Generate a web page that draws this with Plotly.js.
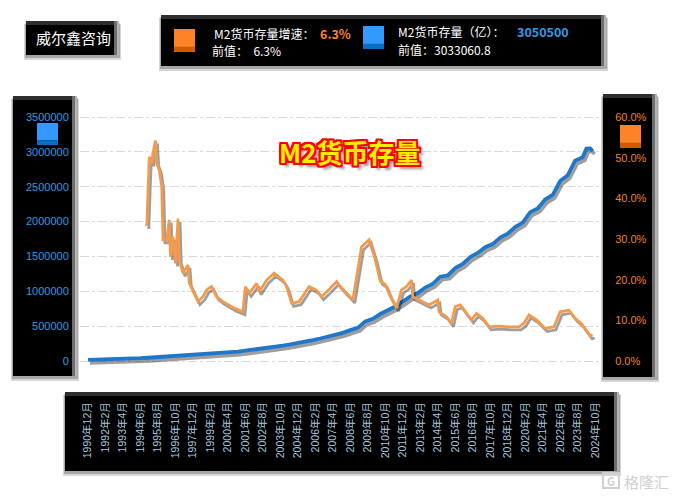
<!DOCTYPE html>
<html>
<head>
<meta charset="utf-8">
<script src="https://cdn.plot.ly/plotly-3.0.1.min.js"></script>
<style>
  html, body { margin: 0; padding: 0; background: #ffffff; }
  #chart { width: 676px; height: 496px; }
</style>
</head>
<body>
<div id="chart"></div>
<script>
// ---- data ----
const stockDates = ['1990-12','1991-06','1991-12','1992-06','1992-12','1993-06','1993-12','1994-06','1994-12',
  '1995-06','1995-12','1996-06','1996-12','1997-06','1997-12','1998-06','1998-12','1999-06','1999-12',
  '2000-06','2000-12','2001-06','2001-12','2002-06','2002-12','2003-06','2003-12','2004-06','2004-12',
  '2005-06','2005-12','2006-06','2006-12','2007-06','2007-12','2008-06','2008-12','2009-06','2009-12',
  '2010-06','2010-12','2011-06','2011-12','2012-06','2012-12','2013-06','2013-12','2014-06','2014-12',
  '2015-06','2015-12','2016-06','2016-12','2017-06','2017-12','2018-06','2018-12','2019-06','2019-12',
  '2020-06','2020-12','2021-06','2021-12','2022-06','2022-12','2023-06','2023-12','2024-03','2024-06',
  '2024-07','2024-08'];
const stockValues = [15293,17000,19350,22000,25402,30000,34880,40000,46924,
  53000,60750,68000,76095,82000,90995,97000,104499,111000,119898,
  126000,134610,147800,158302,170000,185007,204900,221223,238400,254107,
  275800,298756,322800,345578,377800,403442,443100,475166,568900,606225,
  673900,725852,780800,851591,924900,974159,1054000,1106500,1209600,1228400,
  1333400,1392300,1490500,1550100,1631300,1676800,1770200,1826700,1921400,1986500,
  2134900,2186800,2316200,2382900,2581500,2664300,2873000,2922700,3047900,3050200,
  3033061,3050500];

const growthDates = ['1994-11','1995-01','1995-03','1995-04','1995-06','1995-07','1995-09','1995-11','1995-12',
  '1996-03','1996-05','1996-06','1996-08','1996-10','1996-12','1997-01','1997-04','1997-08','1997-09',
  '1998-01','1998-04','1998-08','1998-11','1999-03','1999-07','1999-12','2000-05','2000-09','2001-04',
  '2001-06','2001-09','2002-03','2002-05','2002-11','2003-05','2003-12','2004-03','2004-07','2005-01',
  '2005-09','2006-03','2006-07','2006-11','2007-03','2007-07','2007-10','2008-03','2008-08','2009-03',
  '2009-09','2010-02','2010-06','2010-10','2011-02','2011-07','2011-11','2012-03','2012-07','2012-08',
  '2013-01','2013-09','2014-04','2014-05','2014-11','2015-03','2015-06','2015-10','2016-03','2016-07',
  '2016-11','2017-04','2017-09','2018-05','2019-01','2019-09','2020-01','2020-05','2020-11','2021-06',
  '2022-01','2022-06','2023-01','2023-06','2023-11','2024-06','2024-07','2024-08'];
const growthValues = [33.2,50.2,48.6,51.1,54.2,48.6,47.0,42.9,29.8,
  29.8,34.7,25.6,30.6,24.0,35.0,24.8,21.6,23.6,19.2,
  16.7,14.6,15.8,17.5,18.3,15.8,14.6,13.8,13.0,12.1,
  18.3,16.6,19.1,17.0,19.9,21.6,19.9,18.3,14.2,14.6,
  18.3,17.4,15.8,17.0,18.3,19.5,18.3,16.6,15.0,28.1,
  29.8,24.8,19.6,18.8,15.8,13.0,17.5,18.3,19.9,15.8,
  15.0,13.8,15.0,12.1,10.9,9.2,13.4,13.8,11.7,10.1,
  11.7,10.5,8.4,8.6,8.4,8.4,9.3,11.3,10.1,8.0,
  8.4,12.1,12.5,10.5,9.2,6.2,6.3,6.3];

const tickDates = ['1990-12','1992-02','1993-04','1994-06','1995-08','1996-10','1997-12','1999-02','2000-04',
  '2001-06','2002-08','2003-10','2004-12','2006-02','2007-04','2008-06','2009-08','2010-10','2011-12',
  '2013-02','2014-04','2015-06','2016-08','2017-10','2018-12','2020-02','2021-04','2022-06','2023-08','2024-10'];
const tickLabels = ['1990年12月','1992年2月','1993年4月','1994年6月','1995年8月','1996年10月','1997年12月','1999年2月','2000年4月',
  '2001年6月','2002年8月','2003年10月','2004年12月','2006年2月','2007年4月','2008年6月','2009年8月','2010年10月','2011年12月',
  '2013年2月','2014年4月','2015年6月','2016年8月','2017年10月','2018年12月','2020年2月','2021年4月','2022年6月','2023年8月','2024年10月'];

const title = 'M2货币存量';
const brand = '威尔鑫咨询';
const growthName = 'M2货币存量增速';
const stockName = 'M2货币存量（亿）';
const growthLatest = '6.3%', growthPrev = '6.3%';
const stockLatest = '3050500', stockPrev = '3033060.8';

// ---- layout geometry ----
const W = 676, H = 496, ML = 80, MR = 74, MT = 100, MB = 121;
const PW = W - ML - MR, PH = H - MT - MB;
const px = x => (x - ML) / PW;
const py = y => 1 - (y - MT) / PH;

function rect(x0, y0, x1, y1, color, layer) {
  return {type: 'rect', xref: 'paper', yref: 'paper', x0: px(x0), x1: px(x1), y0: py(y1), y1: py(y0),
    fillcolor: color, line: {width: 0}, layer: layer || 'below'};
}
function panel(x0, y0, x1, y1) {
  return [
    rect(x0 - 2, y0 + 3, x1 + 2, y1 + 5, 'rgba(0,0,0,0.16)'),
    rect(x0 - 1, y0 + 2, x1 + 1, y1 + 3, 'rgba(0,0,0,0.22)'),
    rect(x0, y0, x1, y1, '#000000'),
    rect(x0, y0, x1, y0 + 4, '#2e2e2e'),
    rect(x1 - 5, y0, x1 - 2, y1, '#6e6e6e'),
    rect(x1 - 2, y0, x1, y1, '#b4b4b4'),
  ];
}
function swatch(x0, y0, x1, y1, c1, c2) {
  const h = (y1 - y0);
  return [rect(x0, y0, x1, y1 - h * 0.22, c1, 'above'), rect(x0, y1 - h * 0.22, x1, y1, c2, 'above')];
}

const shapes = [].concat(
  panel(26, 21, 119, 55),
  panel(161, 15, 606, 66),
  panel(13, 96, 77, 376),
  panel(603, 94, 657, 377),
  panel(65, 392, 619, 471),
  swatch(174, 29, 195, 52, '#ff8226', '#d45a00'),
  swatch(363, 26, 384, 49, '#3399ff', '#0a6fbf'),
  swatch(37, 123, 58, 145, '#3399ff', '#0a6fbf'),
  swatch(620, 125, 641, 148, '#ff8226', '#d45a00'),
  [{type: 'rect', xref: 'paper', yref: 'paper', x0: px(603), x1: px(619), y0: py(488), y1: py(473),
    fillcolor: 'rgba(0,0,0,0)', line: {color: '#d0d0d0', width: 2}, layer: 'above'}]
);

const cjk = '"Noto Sans CJK SC", "Liberation Sans", sans-serif';
function ann(x, y, text, opts) {
  return Object.assign({xref: 'paper', yref: 'paper', x: px(x), y: py(y), text: text, showarrow: false,
    xanchor: 'left', yanchor: 'middle', align: 'left', font: {family: cjk, size: 12, color: '#ffffff'}}, opts || {});
}

const annotations = [
  ann(73, 38, brand, {xanchor: 'center', font: {family: cjk, size: 15, color: '#ffffff'}}),
  ann(212, 33, growthName + '：'),
  ann(318, 33, '<b>' + growthLatest + '</b>', {font: {family: cjk, size: 12.5, color: '#ff8226'}}),
  ann(210, 51, '前值：  ' + growthPrev),
  ann(396, 31.5, stockName + '：'),
  ann(515, 31.5, '<b>' + stockLatest + '</b>', {font: {family: cjk, size: 12.5, color: '#2f9be8'}}),
  ann(396, 49.5, '前值：' + stockPrev),
  ann(350, 151, '<b>' + title + '</b>', {xanchor: 'center', font: {family: cjk, size: 26, color: '#ffee00',
    shadow: '#ff0000 2px 0 0, #ff0000 -2px 0 0, #ff0000 0 2px 0, #ff0000 0 -2px 0, #ff0000 2px 2px 0, #ff0000 -2px -2px 0, #ff0000 2px -2px 0, #ff0000 -2px 2px 0, rgba(0,0,0,0.45) 4px 4px 3px'}}),
  ann(611, 481, '<b>G</b>', {xanchor: 'center', font: {family: cjk, size: 11, color: '#d0d0d0'}}),
  ann(622, 481, '格隆汇', {font: {family: cjk, size: 15, color: '#d0d0d0'}}),
];

const SHADOW = 'rgba(0,0,0,0.38)';
const traces = [
  // soft drop shadows (same data; shifted a few pixels after drawing)
  {x: stockDates, y: stockValues, type: 'scatter', mode: 'lines', yaxis: 'y', hoverinfo: 'skip',
    name: 'shadow', line: {color: SHADOW, width: 3.8}},
  {x: growthDates, y: growthValues, type: 'scatter', mode: 'lines', yaxis: 'y2', hoverinfo: 'skip',
    name: 'shadow', line: {color: SHADOW, width: 2.8}},
  {x: stockDates, y: stockValues, type: 'scatter', mode: 'lines', name: stockName, yaxis: 'y',
    line: {color: '#1f77c9', width: 3.8}},
  {x: growthDates, y: growthValues, type: 'scatter', mode: 'lines', name: growthName, yaxis: 'y2',
    line: {color: '#f39a4c', width: 2.8}},
];

const layout = {
  width: W, height: H, margin: {l: ML, r: MR, t: MT, b: MB},
  paper_bgcolor: '#ffffff', plot_bgcolor: 'rgba(0,0,0,0)', showlegend: false,
  xaxis: {type: 'date', range: ['1990-05-19', '2025-03-16'], tickvals: tickDates, ticktext: tickLabels,
    tickangle: -90, ticks: 'outside', ticklen: 22, tickcolor: 'rgba(0,0,0,0)', showgrid: false, zeroline: false,
    showline: false, tickfont: {family: '"Liberation Sans", "Noto Sans CJK SC", sans-serif', size: 10.5, color: '#a6c6de'}},
  yaxis: {range: [-200820, 3743852], tick0: 0, dtick: 500000, tickformat: 'd', showgrid: true,
    gridcolor: '#dadada', griddash: 'dashdot', gridwidth: 1, zeroline: false, showline: false,
    ticks: 'outside', ticklen: 8, tickcolor: 'rgba(0,0,0,0)',
    tickfont: {family: '"Liberation Sans", sans-serif', size: 11, color: '#2f9be8'}},
  yaxis2: {overlaying: 'y', side: 'right', range: [-3.443, 64.18], tick0: 0, dtick: 10, tickformat: '.1f',
    ticksuffix: '%', showgrid: false, zeroline: false, showline: false,
    ticks: 'outside', ticklen: 10, tickcolor: 'rgba(0,0,0,0)',
    tickfont: {family: '"Liberation Sans", sans-serif', size: 11, color: '#f08020'}},
  shapes: shapes, annotations: annotations,
};

Plotly.newPlot('chart', traces, layout, {staticPlot: true, displayModeBar: false}).then(function () {
  document.querySelectorAll('#chart .scatterlayer .trace').forEach(function (g) {
    const d = g.__data__;
    const tr = d && d[0] && d[0].trace;
    if (tr && tr.name === 'shadow') g.setAttribute('transform', 'translate(2,3)');
  });
});
</script>
</body>
</html>
